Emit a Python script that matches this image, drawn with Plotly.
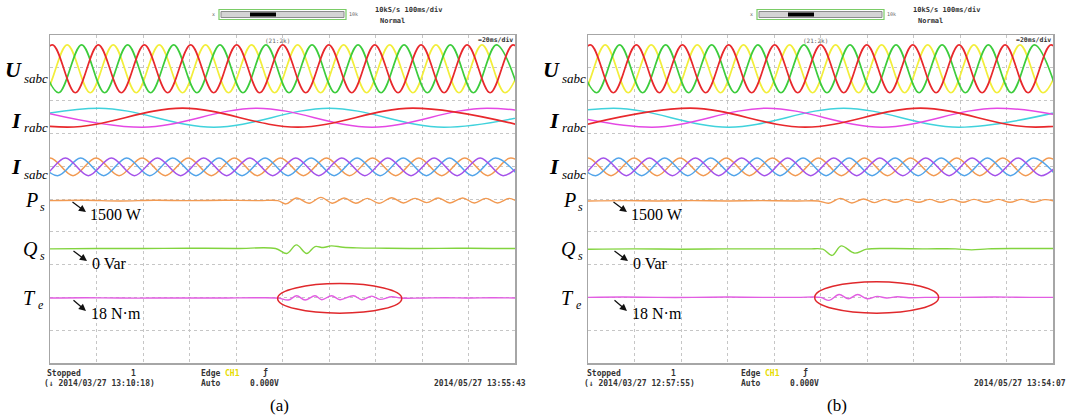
import plotly.graph_objects as go

W, H = 1070, 420

# ---------------- DATA (time in ms, 20 ms/div; value in screen divisions, 0 = bottom) -------------
u_red_t = [-8.9, 1.0, 10.9, 20.8, 30.7, 40.6, 50.6, 60.5, 70.4, 80.3, 90.2, 100.1, 110.0, 119.9,
           129.8, 139.7, 149.7, 159.6, 169.5, 179.4, 189.3, 199.2, 209.1]
u_red_v = [8.24, 9.70, 8.24, 9.70, 8.24, 9.70, 8.24, 9.70, 8.24, 9.70, 8.24, 9.70, 8.24, 9.70,
           8.24, 9.70, 8.24, 9.70, 8.24, 9.70, 8.24, 9.70, 8.24]
u_yel_t = [-12.4, -2.5, 7.4, 17.3, 27.2, 37.1, 47.0, 57.0, 66.9, 76.8, 86.7, 96.6, 106.5, 116.4,
           126.3, 136.2, 146.1, 156.1, 166.0, 175.9, 185.8, 195.7, 205.6]
u_yel_v = [9.70, 8.24, 9.70, 8.24, 9.70, 8.24, 9.70, 8.24, 9.70, 8.24, 9.70, 8.24, 9.70, 8.24,
           9.70, 8.24, 9.70, 8.24, 9.70, 8.24, 9.70, 8.24, 9.70]
u_grn_t = [-6.2, 3.7, 13.6, 23.5, 33.4, 43.3, 53.2, 63.2, 73.1, 83.0, 92.9, 102.8, 112.7, 122.6,
           132.5, 142.4, 152.3, 162.3, 172.2, 182.1, 192.0, 201.9]
u_grn_v = [9.70, 8.24, 9.70, 8.24, 9.70, 8.24, 9.70, 8.24, 9.70, 8.24, 9.70, 8.24, 9.70, 8.24,
           9.70, 8.24, 9.70, 8.24, 9.70, 8.24, 9.70, 8.24]

# Stator current I_sabc (same in both panels)
is_org_t = [-9.9, 0.0, 9.9, 19.8, 29.7, 39.6, 49.6, 59.5, 69.4, 79.3, 89.2, 99.1, 109.0, 118.9,
            128.8, 138.7, 148.7, 158.6, 168.5, 178.4, 188.3, 198.2, 208.1]
is_org_v = [5.71, 6.25, 5.71, 6.25, 5.71, 6.25, 5.71, 6.25, 5.71, 6.25, 5.71, 6.25, 5.71, 6.25,
            5.71, 6.25, 5.71, 6.25, 5.71, 6.25, 5.71, 6.25, 5.71]
is_pur_t = [-13.2, -3.3, 6.6, 16.5, 26.4, 36.3, 46.2, 56.2, 66.1, 76.0, 85.9, 95.8, 105.7, 115.6,
            125.5, 135.4, 145.3, 155.3, 165.2, 175.1, 185.0, 194.9, 204.8]
is_pur_v = [6.25, 5.71, 6.25, 5.71, 6.25, 5.71, 6.25, 5.71, 6.25, 5.71, 6.25, 5.71, 6.25, 5.71,
            6.25, 5.71, 6.25, 5.71, 6.25, 5.71, 6.25, 5.71, 6.25]
is_blu_t = [-6.6, 3.3, 13.2, 23.1, 33.0, 42.9, 52.8, 62.8, 72.7, 82.6, 92.5, 102.4, 112.3, 122.2,
            132.1, 142.0, 151.9, 161.9, 171.8, 181.7, 191.6, 201.5]
is_blu_v = [6.25, 5.71, 6.25, 5.71, 6.25, 5.71, 6.25, 5.71, 6.25, 5.71, 6.25, 5.71, 6.25, 5.71,
            6.25, 5.71, 6.25, 5.71, 6.25, 5.71, 6.25, 5.71]

# Rotor current I_rabc, panel (a)
ir_cyn_a_t = [-28.5, 21.0, 70.5, 120.0, 169.5, 219.0]
ir_cyn_a_v = [7.19, 7.77, 7.19, 7.77, 7.19, 7.77]
ir_red_a_t = [-42.0, 7.5, 57.0, 106.5, 156.0, 205.5]
ir_red_a_v = [7.77, 7.19, 7.77, 7.19, 7.77, 7.19]
ir_mag_a_t = [-10.0, 39.5, 89.0, 138.5, 188.0, 237.5]
ir_mag_a_v = [7.77, 7.19, 7.77, 7.19, 7.77, 7.19]
# Rotor current I_rabc, panel (b)
ir_cyn_b_t = [-38.5, 11.0, 60.5, 110.0, 159.5, 209.0]
ir_cyn_b_v = [7.19, 7.77, 7.19, 7.77, 7.19, 7.77]
ir_red_b_t = [-5.5, 44.0, 93.5, 143.0, 192.5, 242.0]
ir_red_b_v = [7.19, 7.77, 7.19, 7.77, 7.19, 7.77]
ir_mag_b_t = [-22.0, 27.5, 77.0, 126.5, 176.0, 225.5]
ir_mag_b_v = [7.77, 7.19, 7.77, 7.19, 7.77, 7.19]

# Active power P_s
ps_a_t = [0, 15, 30, 45, 60, 75, 90, 98, 101.5, 106, 111.5, 116.5, 121.5, 126.5, 131.5, 136.5,
          141.5, 147, 152, 157, 162, 167, 172, 177.5, 182.5, 187.5, 192.5, 197.5, 201]
ps_a_v = [4.95, 4.96, 4.94, 4.96, 4.95, 4.96, 4.95, 4.95, 4.85, 5.03, 4.87, 5.05, 4.87, 5.03,
          4.87, 5.02, 4.87, 5.04, 4.88, 5.02, 4.89, 5.03, 4.88, 5.03, 4.88, 5.02, 4.88, 5.02, 4.92]
ps_b_t = [0, 15, 30, 45, 60, 75, 90, 99, 103.5, 108.5, 113.5, 118.5, 123.3, 127.5, 132.2, 137,
          142.2, 147, 151.7, 156.5, 161.3, 166, 171.2, 176.5, 181.5, 186.5, 191.7, 196.5, 201]
ps_b_v = [4.94, 4.95, 4.94, 4.95, 4.94, 4.95, 4.94, 4.94, 4.87, 5.02, 4.88, 5.00, 4.89, 4.99,
          4.90, 4.99, 4.90, 4.99, 4.90, 4.99, 4.90, 4.99, 4.90, 4.99, 4.90, 4.99, 4.90, 4.98, 4.93]

# Reactive power Q_s
qs_a_t = [0, 20, 40, 60, 80, 97, 101.8, 106, 110.4, 114, 117.5, 121, 126, 132, 145, 160, 175,
          190, 201]
qs_a_v = [3.48, 3.49, 3.49, 3.50, 3.49, 3.49, 3.34, 3.60, 3.34, 3.55, 3.52, 3.57, 3.53, 3.51,
          3.50, 3.49, 3.50, 3.49, 3.49]
qs_b_t = [0, 20, 40, 60, 80, 95, 101, 105, 108.9, 114.7, 119.8, 130, 145, 158, 165, 172, 185,
          201]
qs_b_v = [3.47, 3.48, 3.47, 3.48, 3.48, 3.48, 3.47, 3.28, 3.57, 3.35, 3.47, 3.49, 3.48, 3.48,
          3.45, 3.48, 3.49, 3.49]

# Electromagnetic torque T_e
te_a_t = [0, 15, 30, 45, 60, 75, 88, 98, 102.5, 106.1, 109.7, 114, 116.9, 121.1, 124.7, 130.5,
          134.1, 138.4, 141.9, 147, 151, 160, 170, 180, 190, 201]
te_a_v = [1.98, 1.99, 1.98, 1.98, 1.98, 1.98, 1.99, 1.98, 1.92, 2.05, 1.92, 2.05, 1.93, 2.05,
          1.93, 2.05, 1.93, 2.04, 1.94, 2.02, 1.98, 1.98, 1.99, 1.98, 1.99, 1.98]
te_b_t = [0, 15, 30, 45, 60, 75, 90, 100, 103.7, 108, 112, 116, 120, 124.5, 128.5, 133, 138,
          145, 160, 175, 190, 201]
te_b_v = [2.00, 2.01, 2.00, 2.00, 2.01, 2.00, 2.00, 2.00, 1.91, 2.09, 1.96, 2.09, 1.96, 2.03,
          1.98, 2.02, 1.99, 2.00, 2.00, 2.01, 2.00, 2.00]

# Text content
value_labels = ["1500 W", "0 Var", "18 N·m"]
panel_tags = ["(a)", "(b)"]
stop_times = ["(\u2193 2014/03/27 13:10:18)", "(\u2193 2014/03/27 12:57:55)"]
clock_times = ["2014/05/27 13:55:43", "2014/05/27 13:54:07"]

# ---------------- STYLE / LAYOUT -------------------------------------------------------------------
RED, YEL, GRN = "#e8282c", "#f2ee3a", "#3ccc3c"
CYN, MAG = "#40d2dc", "#e448e4"
ORG, BLU, PUR = "#f29a52", "#52a4ea", "#a452ea"
QGRN, TMAG = "#82d43e", "#e25ee2"

fig = go.Figure()
AX = [("x", "y"), ("x2", "y2")]


def line(t, v, color, width, p):
    fig.add_trace(go.Scatter(x=t, y=v, mode="lines", xaxis=AX[p][0], yaxis=AX[p][1],
                             line=dict(color=color, width=width, shape="spline", smoothing=1.0),
                             hoverinfo="skip", showlegend=False))


for p in (0, 1):
    line(u_yel_t, u_yel_v, YEL, 1.7, p)
    line(u_grn_t, u_grn_v, GRN, 1.7, p)
    line(u_red_t, u_red_v, RED, 1.7, p)
    line(is_org_t, is_org_v, ORG, 1.5, p)
    line(is_blu_t, is_blu_v, BLU, 1.5, p)
    line(is_pur_t, is_pur_v, PUR, 1.5, p)

line(ir_cyn_a_t, ir_cyn_a_v, CYN, 1.5, 0)
line(ir_mag_a_t, ir_mag_a_v, MAG, 1.5, 0)
line(ir_red_a_t, ir_red_a_v, RED, 1.6, 0)
line(ir_cyn_b_t, ir_cyn_b_v, CYN, 1.5, 1)
line(ir_mag_b_t, ir_mag_b_v, MAG, 1.5, 1)
line(ir_red_b_t, ir_red_b_v, RED, 1.6, 1)
line(ps_a_t, ps_a_v, ORG, 1.4, 0)
line(ps_b_t, ps_b_v, ORG, 1.4, 1)
line(qs_a_t, qs_a_v, QGRN, 1.4, 0)
line(qs_b_t, qs_b_v, QGRN, 1.4, 1)
line(te_a_t, te_a_v, TMAG, 1.4, 0)
line(te_b_t, te_b_v, TMAG, 1.4, 1)

BOX_L = [50, 588]
BOX_W = 465
BOX_T, BOX_B = 35, 363

xc = dict(range=[0, 200], dtick=20, tick0=0, showgrid=True, gridcolor="#c6c6c6", griddash="dot",
          gridwidth=1, zeroline=False, showline=True, mirror=True, linecolor="#a6a6a6",
          linewidth=1.5, showticklabels=False, ticks="", fixedrange=True)
yc = dict(range=[0, 10], dtick=1, tick0=0, showgrid=True, gridcolor="#c6c6c6", griddash="dot",
          gridwidth=1, zeroline=False, showline=True, mirror=True, linecolor="#a6a6a6",
          linewidth=1.5, showticklabels=False, ticks="", fixedrange=True)
ydom = [1 - BOX_B / H, 1 - BOX_T / H]
fig.update_layout(
    width=W, height=H, margin=dict(l=0, r=0, t=0, b=0),
    paper_bgcolor="white", plot_bgcolor="white", showlegend=False,
    xaxis=dict(domain=[BOX_L[0] / W, (BOX_L[0] + BOX_W) / W], anchor="y", **xc),
    yaxis=dict(domain=ydom, anchor="x", **yc),
    xaxis2=dict(domain=[BOX_L[1] / W, (BOX_L[1] + BOX_W) / W], anchor="y2", **xc),
    yaxis2=dict(domain=ydom, anchor="x2", **yc),
)

ann = []
shapes = []
SERIF = "Liberation Serif"
MONO = "DejaVu Sans Mono"


def txt(x, y, s, size, family, color="#111", xanchor="left", yanchor="middle"):
    ann.append(dict(x=x / W, y=1 - y / H, xref="paper", yref="paper", text=s, showarrow=False,
                    font=dict(size=size, family=family, color=color), xanchor=xanchor,
                    yanchor=yanchor, borderpad=0))


def arrow(hx, hy, tx, ty):
    ann.append(dict(x=hx / W, y=1 - hy / H, xref="paper", yref="paper", text="",
                    showarrow=True, ax=tx - hx, ay=ty - hy, arrowhead=2, arrowsize=1.1,
                    arrowwidth=1.3, arrowcolor="#111"))


# Ellipses marking the torque ripple (data coordinates)
ELL = [dict(x0=97.9, x1=151.3, y0=1.52, y1=2.42), dict(x0=97.5, x1=150.8, y0=1.52, y1=2.48)]

for p in (0, 1):
    o = BOX_L[p] - BOX_L[0]
    # channel labels
    txt(23 + o, 70, "<b><i>U</i></b>", 22, SERIF, "#000", "right")
    txt(23 + o, 78, "<i>sabc</i>", 13, SERIF, "#000")
    txt(23 + o, 120, "<b><i>I</i></b>", 22, SERIF, "#000", "right")
    txt(23 + o, 127, "<i>rabc</i>", 13, SERIF, "#000")
    txt(23 + o, 167, "<b><i>I</i></b>", 22, SERIF, "#000", "right")
    txt(23 + o, 174, "<i>sabc</i>", 13, SERIF, "#000")
    txt(39 + o, 200, "<i>P</i>", 20, SERIF, "#000", "right")
    txt(38.5 + o, 207, "<i>s</i>", 12, SERIF, "#000")
    txt(39 + o, 249, "<i>Q</i>", 20, SERIF, "#000", "right")
    txt(38.5 + o, 256, "<i>s</i>", 12, SERIF, "#000")
    txt(37 + o, 298, "<i>T</i>", 20, SERIF, "#000", "right")
    txt(36.5 + o, 305, "<i>e</i>", 12, SERIF, "#000")

    # value callouts
    oa = o + (3 if p else 0)
    txt(89 + oa, 214, value_labels[0], 16, SERIF, "#000")
    arrow(86 + oa, 212, 71 + oa, 201)
    txt(91 + oa, 263, value_labels[1], 16, SERIF, "#000")
    arrow(87 + oa, 261, 72 + oa, 250)
    txt(90 + oa, 313, value_labels[2], 16, SERIF, "#000")
    arrow(86 + oa, 311, 72 + oa, 299)

    # scope status text
    ob = o + (2 if p else 0)
    txt(46 + ob, 373, "<b>Stopped</b>", 8, MONO, "#333")
    txt(133 + ob, 373, "<b>1</b>", 8, MONO, "#333", "center")
    txt(43 + ob, 383, "<b>" + stop_times[p] + "</b>", 8, MONO, "#333")
    txt(200 + ob, 373, "<b>Edge</b>", 8, MONO, "#333")
    txt(224 + ob, 373, "<b>CH1</b>", 8, MONO, "#e6dc00")
    txt(265 + ob, 372, "<b>\u0192</b>", 8, MONO, "#333", "center")
    txt(200 + ob, 383, "<b>Auto</b>", 8, MONO, "#333")
    txt(249 + ob, 383, "<b>0.000V</b>", 8, MONO, "#333")
    txt(433 + o + (2 if p else 0), 383, "<b>" + clock_times[p] + "</b>", 8, MONO, "#333")
    txt([279, 837][p], 405, panel_tags[p], 17, SERIF, "#000", "center")

    # top bar
    txt(374 + o, 10, "<b>10kS/s 100ms/div</b>", 7, MONO, "#333")
    txt(379 + o, 21, "<b>Normal</b>", 7, MONO, "#333")
    txt(277 + o, 40, "(21:2k)", 6, MONO, "#666", "center")
    txt(514 + o, 40, "<b>=20ms/div</b>", 6.5, MONO, "#333", "right")
    txt(216 + o, 14, "x", 5, MONO, "#666", "right")
    txt(348 + o, 14, "10k", 5, MONO, "#666")
    shapes.append(dict(type="rect", xref="paper", yref="paper", x0=(219 + o) / W, x1=(346 + o) / W,
                       y0=1 - 19.5 / H, y1=1 - 9.5 / H, line=dict(color="#7acc66", width=1.2),
                       fillcolor="#ffffff"))
    shapes.append(dict(type="rect", xref="paper", yref="paper", x0=(221 + o) / W, x1=(344 + o) / W,
                       y0=1 - 17.5 / H, y1=1 - 11.5 / H, line=dict(color="#8c8c8c", width=1),
                       fillcolor="#d4d4d4"))
    shapes.append(dict(type="rect", xref="paper", yref="paper", x0=(250 + o) / W, x1=(276 + o) / W,
                       y0=1 - 16.5 / H, y1=1 - 12.5 / H, line=dict(width=0), fillcolor="#000"))

    # ellipse
    e = ELL[p]
    shapes.append(dict(type="circle", xref=AX[p][0], yref=AX[p][1], line=dict(color="#e0282c", width=1.5),
                       **e))

fig.update_layout(annotations=ann, shapes=shapes)
fig.write_html("out.html", config={"displayModeBar": False, "staticPlot": True},
               post_script="document.body.style.margin='0';document.body.style.overflow='hidden';")
